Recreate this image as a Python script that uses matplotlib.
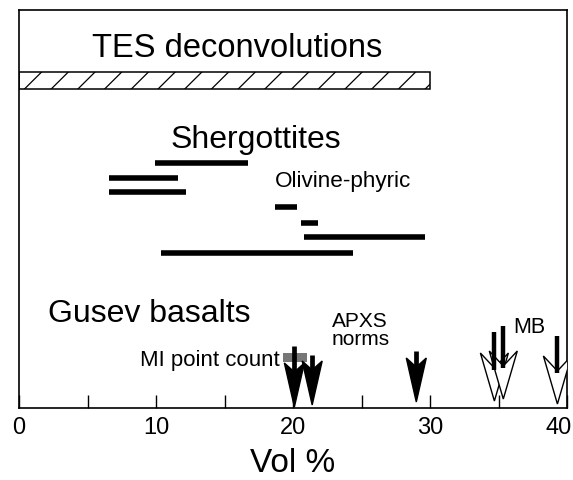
import numpy as np
import matplotlib.pyplot as plt
from matplotlib.patches import Rectangle, Polygon
from matplotlib.transforms import ScaledTranslation

plt.rcParams['font.family'] = ['Liberation Sans', 'DejaVu Sans']

# TES deconvolution range (vol %)
tes_range = (0, 30)

# Shergottite olivine ranges (vol %)
sherg_lo = [9.9, 6.6, 6.6, 18.7, 20.6, 20.8, 10.4]
sherg_hi = [16.7, 11.6, 12.2, 20.3, 21.8, 29.6, 24.4]

# MI point count range
mi_range = (19.3, 21.0)

# Gusev arrows: filled = APXS norms / point count, open = MB
filled_x = [20.1, 21.4, 29.0]
open_x = [34.7, 35.35, 39.3]

xticks_major = [0, 10, 20, 30, 40]
xticks_minor = [5, 15, 25, 35]

fig = plt.figure(figsize=(5.73, 4.81), dpi=100)
ax = fig.add_axes([19 / 573, 72 / 481, 548 / 573, 398 / 481])
ax.set_xlim(0, 40)
ax.set_ylim(0, 398)

# TES hatched bar (hatch drawn by hand to get the steep, sparse lines)
bar_y, bar_h = 319, 17
tes_w = tes_range[1] - tes_range[0]
clip_box = Rectangle((tes_range[0], bar_y), tes_w, bar_h, facecolor='white',
                     edgecolor='none', zorder=1)
ax.add_patch(clip_box)
for x0 in np.arange(tes_range[0] + 0.4, tes_range[1] + 1.5, 1.95):
    ln, = ax.plot([x0, x0 + 1.25], [bar_y, bar_y + bar_h], color='black',
                  lw=0.9, zorder=2)
    ln.set_clip_path(clip_box)
ax.add_patch(Rectangle((tes_range[0], bar_y), tes_w, bar_h, facecolor='none',
                       edgecolor='black', lw=1.1, zorder=3))
ax.text(15.9, 352, 'TES deconvolutions', fontsize=23.5, ha='center', va='baseline')

# shergottites
ax.text(17.3, 261, 'Shergottites', fontsize=23, ha='center', va='baseline')
ax.text(18.65, 222, 'Olivine-phyric', fontsize=16.2, ha='left', va='baseline')
sherg_y = [245, 230, 216, 201, 185, 171, 155]
ax.hlines(sherg_y, sherg_lo, sherg_hi, colors='black', lw=4, capstyle='butt')

# Gusev basalts
ax.text(2.1, 87, 'Gusev basalts', fontsize=23, ha='left', va='baseline')
ax.text(24.9, 82, 'APXS', fontsize=15, ha='center', va='baseline')
ax.text(24.9, 64, 'norms', fontsize=15, ha='center', va='baseline')
ax.text(36.1, 76, 'MB', fontsize=15.5, ha='left', va='baseline')
ax.text(19.0, 43, 'MI point count', fontsize=16, ha='right', va='baseline')
ax.add_patch(Rectangle((mi_range[0], 46), mi_range[1] - mi_range[0], 9,
                       facecolor='#777777', edgecolor='none', zorder=2))


def arrow(x, y_tip, y_top, head_len, head_w, notch, fill, shaft_w):
    # head drawn in pixels (1/100 inch) around the tip point
    trans = fig.dpi_scale_trans + ScaledTranslation(x, y_tip, ax.transData)
    pts = np.array([[0, 0], [head_w / 2, head_len], [0, head_len - notch],
                    [-head_w / 2, head_len]]) / 100.0
    ax.add_patch(Polygon(pts, closed=True, transform=trans, facecolor=fill,
                         edgecolor='black', lw=1.0, zorder=3))
    ax.plot([x, x], [y_tip + head_len - notch - 2, y_top], color='black',
            lw=shaft_w, solid_capstyle='butt', zorder=4)


filled_tip = [1, 3, 6]
filled_top = [62, 53, 57]
for x, yt, ytop in zip(filled_x, filled_tip, filled_top):
    arrow(x, yt, ytop, 44, 20, 9, 'black', 3.4)

open_tip = [7, 9, 4]
open_top = [76, 82, 72]
for x, yt, ytop in zip(open_x, open_tip, open_top):
    arrow(x, yt, ytop, 48, 28, 15, 'white', 3.2)

# axes styling
ax.set_yticks([])
ax.set_xticks(xticks_major)
ax.set_xticks(xticks_minor, minor=True)
ax.tick_params(axis='x', which='both', direction='in', length=9.5, width=1.0,
               labelsize=17, pad=6)
# last label sits a little inside the frame, as in the original
last = ax.get_xticklabels()[-1]
last.set_transform(last.get_transform() +
                   ScaledTranslation(-0.08, 0, fig.dpi_scale_trans))
for s in ax.spines.values():
    s.set_linewidth(1.2)
ax.set_xlabel('Vol %', fontsize=24, labelpad=6)

fig.savefig('out.png', dpi=100)
